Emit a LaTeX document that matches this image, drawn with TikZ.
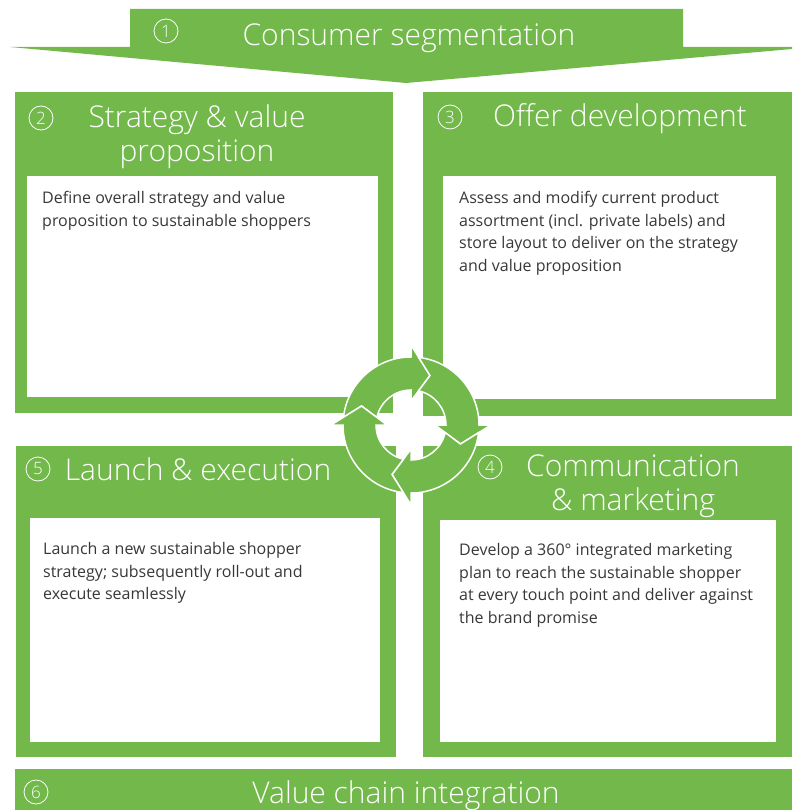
\documentclass[tikz,border=0pt]{standalone}
\usepackage{fontspec}
\setmainfont{Open Sans}
\newfontfamily\lightfont{Open Sans Light}
\definecolor{dgreen}{RGB}{114,184,75}
\tikzset{
 panel/.style={fill=dgreen},
 card/.style={fill=white},
 head/.style={text=white, font=\lightfont\fontsize{30}{34}\selectfont, inner sep=0pt, align=center},
 num/.style={circle, draw=white, line width=0.8pt, minimum size=24pt, inner sep=0pt, text=white, font=\lightfont\fontsize{17}{17}\selectfont},
 body/.style={text=black!78, font=\fontsize{16}{22.7}\selectfont, align=left, anchor=north west, inner sep=0pt},
 ring/.style={fill=dgreen, draw=white, line width=1.5pt, line join=miter},
}
\begin{document}
\begin{tikzpicture}[x=1pt,y=-1pt]
\useasboundingbox[fill=white] (0,0) rectangle (792,810);
% top arrow
\fill[dgreen] (130,9) -- (683,9) -- (683,47) -- (792,47) -- (792,49) -- (406,83) -- (10,47) -- (130,47) -- cycle;
\node[num] (n1) at (166,31) {1};
\node[head, anchor=base] (h1) at (409,46) {Consumer segmentation};
% boxes
\fill[panel] (15,92) rectangle (393,413);
\fill[card] (27,176) rectangle (378,397);
\fill[panel] (423,92) rectangle (792,416);
\fill[card] (443,176) rectangle (776,399);
\fill[panel] (16,446) rectangle (396,757);
\fill[card] (30,518) rectangle (380,742);
\fill[panel] (423,446) rectangle (792,757);
\fill[card] (440,520) rectangle (776,742);
\fill[panel] (15,769) rectangle (792,810);
% ring
\begin{scope}[shift={(411,425)}, y=1pt]
\foreach \p/\b in {180/90, 90/0, 0/-90, -90/-180}{
  \path[ring] ({\p-6.5}:68) arc[start angle=\p-6.5, end angle=\b, radius=68]
    -- (\b:80) -- ({\b-21}:53) -- (\b:24) -- (\b:35)
    arc[start angle=\b, end angle=\p-12.5, radius=35]
    -- ({\p-21}:53) -- cycle;
}
\end{scope}
% headings
\node[num] (n2) at (41,118) {2};
\node[head, anchor=north] (h2) at (197,105) {Strategy \& value\\proposition};
\node[num] (n3) at (450,117) {3};
\node[head, anchor=base] (h3) at (620,127) {Offer development};
\node[num] (n5) at (38,469) {5};
\node[head, anchor=base] (h5) at (198,480) {Launch \& execution};
\node[num] (n4) at (490,467) {4};
\node[head, anchor=north] (h4) at (633,455) {Communication\\\& marketing};
\node[num] (n6) at (36,792) {6};
\node[head, anchor=base] (h6) at (406,803) {Value chain integration};
% bodies
\node[body] (b2) at (42,191) {Define overall strategy and value\\proposition to sustainable shoppers};
\node[body] (b3) at (459,191) {Assess and modify current product\\assortment (incl. private labels) and\\store layout to deliver on the strategy\\and value proposition};
\node[body] (b5) at (43,542) {Launch a new sustainable shopper\\strategy; subsequently roll-out and\\execute seamlessly};
\node[body] (b4) at (459,543) {Develop a 360° integrated marketing\\plan to reach the sustainable shopper\\at every touch point and deliver against\\the brand promise};
\end{tikzpicture}
\end{document}
